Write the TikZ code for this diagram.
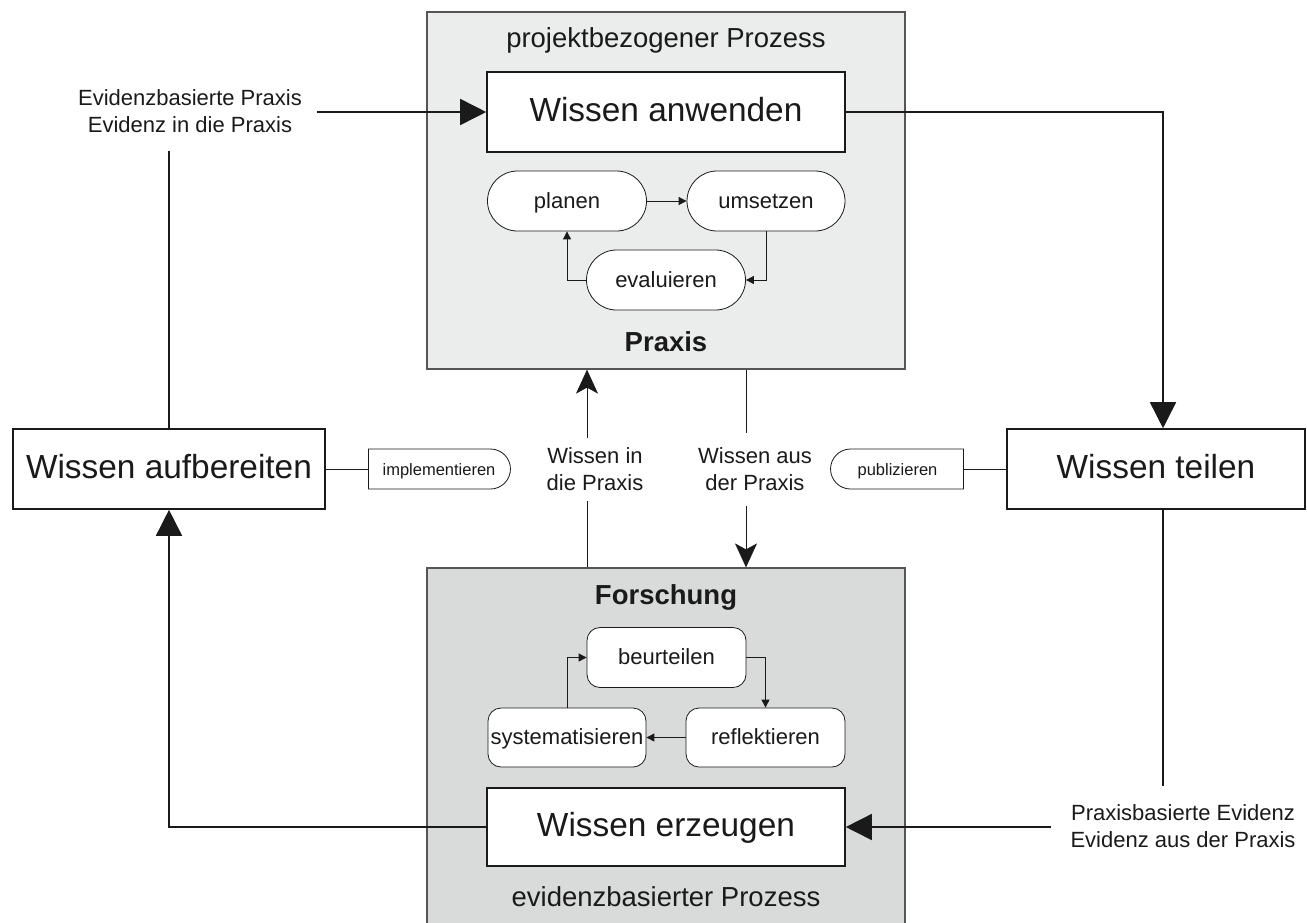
\documentclass[tikz,border=0pt]{standalone}
\usepackage{fontspec}
\setmainfont{Liberation Sans}
\usetikzlibrary{arrows.meta,shapes.misc}
\definecolor{txt}{HTML}{1A1A1A}
\definecolor{topfill}{HTML}{EBECEC}
\definecolor{botfill}{HTML}{D9DADA}
\definecolor{frame}{HTML}{555555}
\tikzset{
  container/.style={draw=frame, line width=1.2pt, inner sep=0pt, anchor=center},
  mainbox/.style={draw=txt, fill=white, line width=1.6pt, inner sep=0pt, anchor=center, minimum height=80pt, font=\fontsize{33.4}{38}\selectfont, text=txt, text height=24pt, text depth=6pt},
  pill/.style={draw=txt, fill=white, line width=0.8pt, inner sep=0pt, shape=rounded rectangle, minimum height=60pt, minimum width=159pt, font=\fontsize{22}{26}\selectfont, text=txt, text height=16pt, text depth=2pt},
  rbox/.style={draw=txt, fill=white, line width=0.8pt, inner sep=0pt, rounded corners=13pt, minimum height=60pt, minimum width=159pt, font=\fontsize{22}{26}\selectfont, text=txt, text height=16pt, text depth=2pt},
  tag/.style={draw=txt, fill=white, line width=0.8pt, inner sep=0pt, shape=rounded rectangle, minimum height=40pt, font=\fontsize{16.5}{20}\selectfont, text=txt, text height=12pt, text depth=0pt},
  lbl/.style={align=center, inner sep=0pt, font=\fontsize{22}{27}\selectfont, text=txt},
  sub/.style={inner sep=0pt, font=\fontsize{27.5}{32}\selectfont, text=txt},
  bigline/.style={draw=txt, line width=1.6pt},
  bigarrow/.style={draw=txt, line width=1.6pt, -{Triangle[length=26pt,width=26pt]}},
  midline/.style={draw=txt, line width=1pt},
  midarrow/.style={draw=txt, line width=1pt, -{Stealth[length=24pt,width=22pt,inset=6pt]}},
  smallarrow/.style={draw=txt, line width=0.9pt, -{Triangle[length=8pt,width=8pt]}},
}
\begin{document}
\begin{tikzpicture}[x=1pt,y=-1pt]
\useasboundingbox (0,0) rectangle (1307,922);
% containers
\node[container, fill=topfill, minimum width=478pt, minimum height=357pt] (praxisbox) at (666,190.5) {};
\node[container, fill=botfill, minimum width=478pt, minimum height=358pt] (forschbox) at (666,747) {};
% container texts
\node[sub] (projekt) at (666,40) {projektbezogener Prozess};
\node[sub, font=\fontsize{27.5}{32}\selectfont\bfseries] (praxis) at (666,342) {Praxis};
\node[sub, font=\fontsize{27.5}{32}\selectfont\bfseries] (forschung) at (666,597) {Forschung};
\node[sub] (evidenz) at (666,897) {evidenzbasierter Prozess};
% main boxes
\node[mainbox, minimum width=358pt] (anwenden) at (666,112) {Wissen anwenden};
\node[mainbox, minimum width=358pt, minimum height=78pt] (erzeugen) at (666,827) {Wissen erzeugen};
\node[mainbox, minimum width=312pt] (aufbereiten) at (169,469) {Wissen aufbereiten};
\node[mainbox, minimum width=298pt] (teilen) at (1156,469) {Wissen teilen};
% praxis cycle
\node[pill] (planen) at (567,201) {planen};
\node[pill, minimum width=158pt] (umsetzen) at (766,201) {umsetzen};
\node[pill] (evaluieren) at (666,280) {evaluieren};
\draw[smallarrow] (planen.east) -- (umsetzen.west);
\draw[smallarrow] (umsetzen.south) |- (evaluieren.east);
\draw[smallarrow] (evaluieren.west) -| (planen.south);
% forschung cycle
\node[rbox] (beurteilen) at (666.5,657.5) {beurteilen};
\node[rbox, minimum width=158pt, minimum height=59pt] (systematisieren) at (567,737.5) {systematisieren};
\node[rbox, minimum height=59pt] (reflektieren) at (765.5,737.5) {reflektieren};
\draw[smallarrow] (beurteilen.east) -| (reflektieren.north);
\draw[smallarrow] (reflektieren.west) -- (systematisieren.east);
\draw[smallarrow] (systematisieren.north) |- (beurteilen.west);
% tags
\node[tag, rounded rectangle left arc=none, minimum width=142pt] (impl) at (439,469) {implementieren};
\node[tag, rounded rectangle right arc=none, minimum width=133pt] (publ) at (897.5,469) {publizieren};
\draw[midline] (aufbereiten.east) -- (impl.west);
\draw[midline] (publ.east) -- (teilen.west);
% outer labels
\node[lbl] (evL) at (190,111.5) {Evidenzbasierte Praxis\\Evidenz in die Praxis};
\node[lbl] (evR) at (1183,826.5) {Praxisbasierte Evidenz\\Evidenz aus der Praxis};
\coordinate (lup) at (169,151);
\coordinate (lstart) at (317,112);
\coordinate (rdown) at (1163,786);
\coordinate (rstart) at (1051,827);
\coordinate (tcol) at (1163,0);
\draw[bigline] (aufbereiten.north) -- (lup);
\draw[bigarrow] (lstart) -- (anwenden.west);
\draw[bigarrow] (anwenden.east) -| (tcol |- teilen.north);
\draw[bigline] (tcol |- teilen.south) -- (rdown);
\draw[bigarrow] (rstart) -- (erzeugen.east);
\draw[bigarrow] (erzeugen.west) -| (aufbereiten.south);
% middle labels and arrows
\node[lbl] (inP) at (595,469) {Wissen in\\die Praxis};
\node[lbl] (ausP) at (755,469) {Wissen aus\\der Praxis};
\coordinate (inA) at (587,501);
\coordinate (inB) at (587,438);
\coordinate (ausA) at (746,433);
\coordinate (ausB) at (746,506);
\draw[midline] (forschbox.north -| inA) -- (inA);
\draw[midarrow] (inB) -- (praxisbox.south -| inB);
\draw[midline] (praxisbox.south -| ausA) -- (ausA);
\draw[midarrow] (ausB) -- (forschbox.north -| ausB);
\end{tikzpicture}
\end{document}
